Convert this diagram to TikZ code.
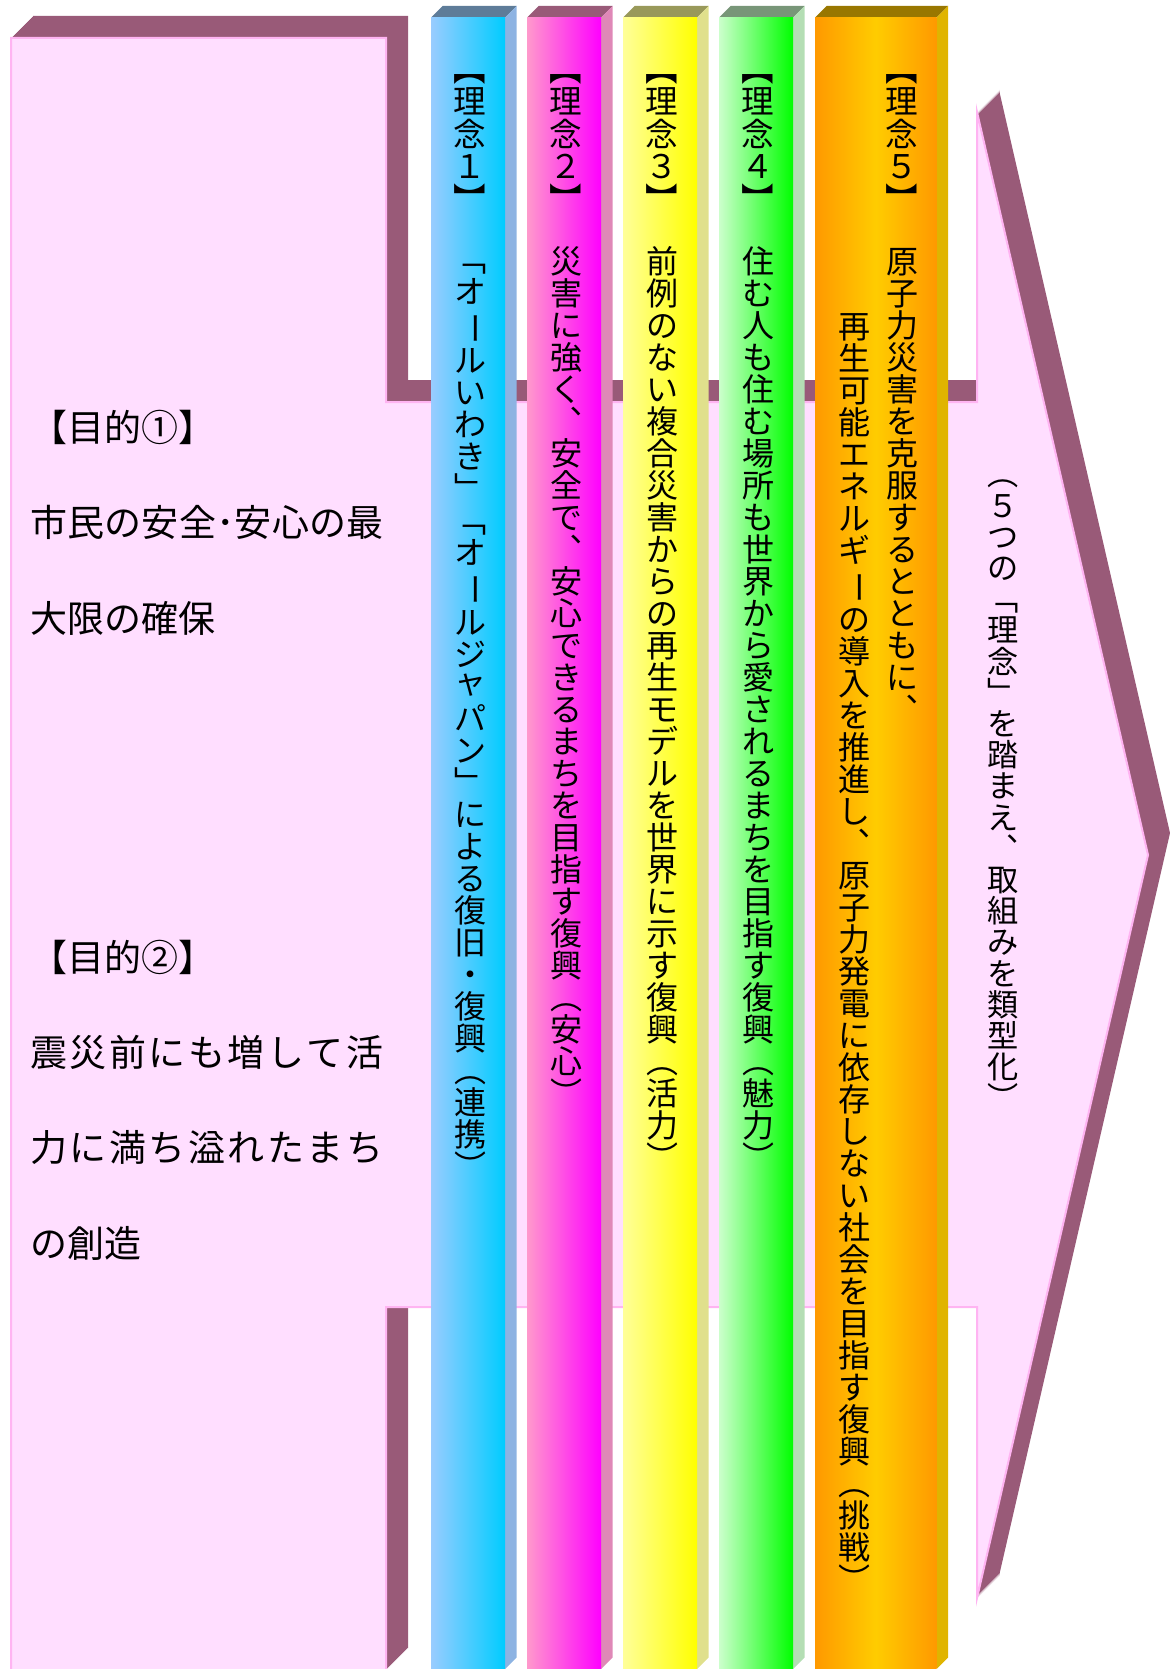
\documentclass[tikz,border=0pt]{standalone}
\usepackage{fontspec}
\usepackage{graphicx}
\setmainfont{Noto Sans CJK JP}
\usetikzlibrary{shadings}

\definecolor{facepink}{RGB}{255,222,255}
\definecolor{edgepink}{RGB}{255,180,242}
\definecolor{mauve}{RGB}{153,90,120}
\definecolor{blueL}{RGB}{153,204,255}
\definecolor{blueR}{RGB}{0,204,255}
\definecolor{blueS}{RGB}{141,179,226}
\definecolor{blueT}{RGB}{94,124,153}
\definecolor{pinkL}{RGB}{255,153,204}
\definecolor{pinkR}{RGB}{255,0,255}
\definecolor{pinkS}{RGB}{223,136,183}
\definecolor{pinkT}{RGB}{153,90,120}
\definecolor{yelL}{RGB}{255,255,153}
\definecolor{yelR}{RGB}{255,255,0}
\definecolor{yelS}{RGB}{224,224,140}
\definecolor{yelT}{RGB}{153,153,90}
\definecolor{grnL}{RGB}{204,255,204}
\definecolor{grnR}{RGB}{0,255,0}
\definecolor{grnS}{RGB}{180,222,180}
\definecolor{grnT}{RGB}{120,150,120}
\definecolor{orgL}{RGB}{255,153,0}
\definecolor{orgM}{RGB}{255,204,0}
\definecolor{orgS}{RGB}{224,180,0}
\definecolor{orgT}{RGB}{153,119,0}

% long vowel mark and small kana for vertical lines
\newcommand\cho{\rotatebox[origin=c]{-90}{ー}}
\newcommand\smya{\raisebox{.15em}{ャ}}

\ExplSyntaxOn
\NewDocumentCommand\evenline{mm}{\hbox~to~#1{\tl_map_inline:nn{#2}{##1\hfil}\unskip}}
\NewDocumentCommand\tatestack{m}{\vbox{\offinterlineskip
  \tl_map_inline:nn{#1}{\hbox{\makebox[1em]{\rule[-0.12em]{0pt}{1em}##1}}}}}
\ExplSyntaxOff

\newcommand\arrowoutline{(11,38) -- (386,38) -- (386,402) -- (977,402) -- (977,112)
  -- (1148,855) -- (977,1598) -- (977,1307) -- (386,1307) -- (386,1670) -- (11,1670) -- cycle}

\begin{document}
\begin{tikzpicture}[x=0.5pt, y=-0.5pt]
		\tikzstyle{goal}=[anchor=west, inner sep=0pt, font=\fontsize{18.5}{21}\selectfont]
		\tikzstyle{tate}=[anchor=north, inner sep=0pt, font=\fontsize{16}{18}\selectfont]
		\tikzstyle{head}=[tate, font=\fontsize{16.3}{18}\selectfont]
		\useasboundingbox (0,0) rectangle (1170,1669);
		\clip (0,0) rectangle (1170,1669);
		
		% big arrow with its shadow
		\foreach \d in {1,...,22}
			\fill[mauve, shift={(\d,-\d)}] \arrowoutline;
		\filldraw[fill=facepink, draw=edgepink, line width=1pt] \arrowoutline;
		
		% five pillars
		\foreach \x/\w/\cl/\cm/\cr/\cs/\ct in {431/74/blueL/blueL!50!blueR/blueR/blueS/blueT,
				527/74/pinkL/pinkL!50!pinkR/pinkR/pinkS/pinkT,
				623/74/yelL/yelL!50!yelR/yelR/yelS/yelT,
				719/74/grnL/grnL!50!grnR/grnR/grnS/grnT,
				815/121.5/orgL/orgM/orgL/orgS/orgT}
		{
			\fill[\ct] (\x,17.5) -- ++(11.5,-11.5) -- ++(\w,0) -- ++(-11.5,11.5) -- cycle;
			\fill[\cs] (\x+\w,17.5) -- ++(11.5,-11.5) -- (\x+\w+11.5,1657.5) -- (\x+\w,1669) -- cycle;
			\shade[left color=\cl, right color=\cr, middle color=\cm] (\x,17.5) rectangle (\x+\w,1669);
		}
		
		% goals
		\node[goal] (g1)  at (30,427)  {【目的①】};
		\node[goal] (g1a) at (30,522)  {\evenline{176.5pt}{市民の安全･安心の最}};
		\node[goal] (g1b) at (30,618)  {大限の確保};
		\node[goal] (g2)  at (30,957)  {【目的②】};
		\node[goal] (g2a) at (30,1052) {\evenline{176.5pt}{震災前にも増して活}};
		\node[goal] (g2b) at (30,1147) {\evenline{176.5pt}{力に満ち溢れたまち}};
		\node[goal] (g2c) at (30,1243) {の創造};
		
		% principles, set top to bottom
		\node[head] (h1) at (470,52) {\tatestack{︻理念１︼}};
		\node[head] (h2) at (566,52) {\tatestack{︻理念２︼}};
		\node[head] (h3) at (662,52) {\tatestack{︻理念３︼}};
		\node[head] (h4) at (758,52) {\tatestack{︻理念４︼}};
		\node[head] (h5) at (902,52) {\tatestack{︻理念５︼}};
		
		\node[tate] (p1)  at (470,243) {\tatestack{﹁オ\cho ルいわき﹂﹁オ\cho ルジ\smya パン﹂による復旧・復興︵連携︶}};
		\node[tate] (p2)  at (566,245) {\tatestack{災害に強く︑安全で︑安心できるまちを目指す復興︵安心︶}};
		\node[tate] (p3)  at (662,245) {\tatestack{前例のない複合災害からの再生モデルを世界に示す復興︵活力︶}};
		\node[tate] (p4)  at (758,245) {\tatestack{住む人も住む場所も世界から愛されるまちを目指す復興︵魅力︶}};
		\node[tate] (p5a) at (902,245) {\tatestack{原子力災害を克服するとともに︑}};
		\node[tate] (p5b) at (854,310) {\tatestack{再生可能エネルギ\cho の導入を推進し︑原子力発電に依存しない社会を目指す復興︵挑戦︶}};
		
		\node[tate, font=\fontsize{15.6}{18}\selectfont] (note) at (1003,458) {\tatestack{︵５つの﹁理念﹂を踏まえ︑取組みを類型化︶}};
\end{tikzpicture}
\end{document}
